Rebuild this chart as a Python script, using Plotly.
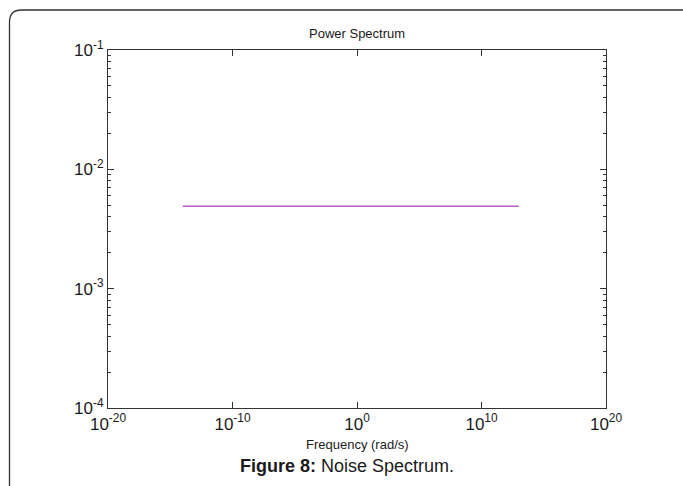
import plotly.graph_objects as go

# ---- data ----
freq = [1e-14, 1e13]
power = [0.0049, 0.0049]

x_tickvals = [1e-20, 1e-10, 1e0, 1e10, 1e20]
x_ticktext = ["10<sup>-20</sup>", "10<sup>-10</sup>", "10<sup>0</sup>", "10<sup>10</sup>", "10<sup>20</sup>"]
y_tickvals = [1e-4, 1e-3, 1e-2, 1e-1]
y_ticktext = ["10<sup>-4</sup>", "10<sup>-3</sup>", "10<sup>-2</sup>", "10<sup>-1</sup>"]
y_minor = [m * 10.0 ** e for e in (-4, -3, -2) for m in range(2, 10)]

title_text = "Power Spectrum"
xlabel_text = "Frequency (rad/s)"
caption_bold = "Figure 8:"
caption_rest = " Noise Spectrum."

W, H = 683, 486
L, R, T, B = 108, 606, 50, 408

def px(x):
    return (x - L) / (R - L)

def py(y):
    return (B - y) / (B - T)

FONT = "Liberation Sans, Arial, sans-serif"

fig = go.Figure()
fig.add_trace(go.Scatter(x=freq, y=power, mode="lines",
                         line=dict(color="#b45fc2", width=1.6), showlegend=False))

axis_common = dict(showgrid=False, zeroline=False, showline=True, linecolor="#333333",
                   linewidth=1.2, mirror="ticks", ticks="inside", ticklen=6,
                   tickcolor="#333333", tickfont=dict(family=FONT, size=17, color="#1a1a1a"))

fig.update_xaxes(type="log", range=[-20, 20], tickmode="array",
                 tickvals=x_tickvals, ticktext=x_ticktext, ticklabelstandoff=0,
                 **axis_common)
fig.update_yaxes(type="log", range=[-4, -1], tickmode="array",
                 tickvals=y_tickvals, ticktext=y_ticktext,
                 minor=dict(tickmode="array", tickvals=y_minor, ticks="inside",
                            ticklen=3, tickcolor="#333333", showgrid=False),
                 **axis_common)

# frame with rounded top-left corner
r = 12
path = (f"M {px(9.5)},{py(490)} L {px(9.5)},{py(10 + r)} "
        f"Q {px(9.5)},{py(10)} {px(9.5 + r)},{py(10)} L {px(690)},{py(10)}")
fig.add_shape(type="path", path=path, xref="paper", yref="paper",
              line=dict(color="#333333", width=1.3))

fig.add_annotation(x=0.5, y=py(33), xref="paper", yref="paper", showarrow=False,
                   text=title_text, font=dict(family=FONT, size=13, color="#1a1a1a"),
                   xanchor="center", yanchor="middle")
fig.add_annotation(x=0.5, y=py(444), xref="paper", yref="paper", showarrow=False,
                   text=xlabel_text, font=dict(family=FONT, size=13, color="#1a1a1a"),
                   xanchor="center", yanchor="middle")
fig.add_annotation(x=px(347), y=py(466), xref="paper", yref="paper", showarrow=False,
                   text=f"<b>{caption_bold}</b>{caption_rest}",
                   font=dict(family=FONT, size=18, color="#1a1a1a"),
                   xanchor="center", yanchor="middle")

fig.update_layout(width=W, height=H, margin=dict(l=L, r=W - R, t=T, b=H - B),
                  paper_bgcolor="white", plot_bgcolor="white",
                  font=dict(family=FONT))

fig.write_html("out.html")
